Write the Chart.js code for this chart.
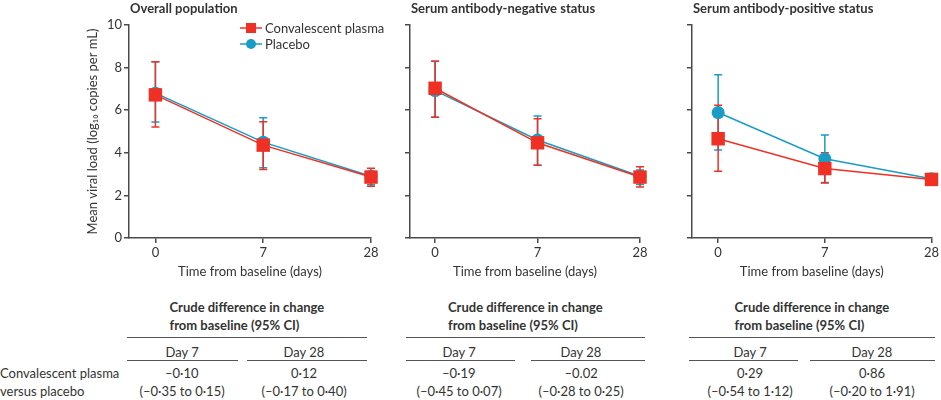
<!DOCTYPE html>
<html>
<head>
<meta charset="utf-8">
<script src="https://cdn.jsdelivr.net/npm/chart.js@4.4.0/dist/chart.umd.min.js"></script>
<style>
  body { margin: 0; width: 941px; height: 400px; background: #fff; position: relative; overflow: hidden;
         font-family: Lato, "Open Sans", sans-serif; color: #333; }
  canvas { position: absolute; top: 0; }
  .ttl { position: absolute; top: 0; font-size: 13px; font-weight: bold; line-height: 16px; white-space: nowrap; }
  .txt { position: absolute; font-size: 13px; line-height: 18px; white-space: nowrap; }
  .rule { position: absolute; height: 0; border-top: 1.5px solid #555; }
</style>
</head>
<body>
<canvas id="c1" width="400" height="285" style="left:0px"></canvas>
<canvas id="c2" width="280" height="285" style="left:380px"></canvas>
<canvas id="c3" width="279" height="285" style="left:662px"></canvas>
<div id="tables"></div>
<script>
const days = ['0', '7', '28']
const seriesNames = ['Convalescent plasma', 'Placebo']
const panelTitles = ['Overall population', 'Serum antibody-negative status', 'Serum antibody-positive status']

// overall population
const allPlasma   = [6.72, 4.36, 2.86]
const allPlasmaLo = [5.21, 3.22, 2.43]
const allPlasmaHi = [8.27, 5.46, 3.27]
const allPlacebo   = [6.80, 4.50, 2.90]
const allPlaceboLo = [5.45, 3.30, 2.50]
const allPlaceboHi = [8.27, 5.64, 3.12]

// antibody-negative
const negPlasma   = [7.03, 4.47, 2.86]
const negPlasmaLo = [5.67, 3.41, 2.40]
const negPlasmaHi = [8.30, 5.60, 3.34]
const negPlacebo   = [6.92, 4.60, 2.90]
const negPlaceboLo = [5.67, 3.41, 2.51]
const negPlaceboHi = [8.30, 5.73, 3.19]

// antibody-positive
const posPlasma   = [4.66, 3.26, 2.75]
const posPlasmaLo = [3.13, 2.58, 2.62]
const posPlasmaHi = [6.23, 4.00, 2.88]
const posPlacebo   = [5.89, 3.72, 2.78]
const posPlaceboLo = [4.13, 2.61, 2.58]
const posPlaceboHi = [7.66, 4.84, 3.00]

// table under each panel
const diffDays = ['Day 7', 'Day 28']
const diffAll = ['–0·10', '0·12']
const ciAll   = ['(–0·35 to 0·15)', '(–0·17 to 0·40)']
const diffNeg = ['–0·19', '–0.02']
const ciNeg   = ['(–0·45 to 0·07)', '(–0·28 to 0·25)']
const diffPos = ['0·29', '0·86']
const ciPos   = ['(–0·54 to 1·12)', '(–0·20 to 1·91)']

const red = '#ee3124'
const blue = '#1a9cc4'
const axisCol = '#4a4a4a'
const txtCol = '#333'
const font = { family: 'Lato', size: 13 }

const errorBars = {
  id: 'errorBars',
  beforeDatasetsDraw(chart) {
    const ctx = chart.ctx, xs = chart.scales.x, ys = chart.scales.y
    const sets = chart.data.datasets.slice().reverse()  // placebo underneath
    sets.forEach(ds => {
      ctx.save()
      ctx.strokeStyle = ds.borderColor
      ctx.lineWidth = 1.5
      ds.lo.forEach((lo, i) => {
        const px = xs.getPixelForValue(i)
        const top = ys.getPixelForValue(ds.hi[i])
        const bot = ys.getPixelForValue(lo)
        ctx.beginPath()
        ctx.moveTo(px, top); ctx.lineTo(px, bot)
        ctx.moveTo(px - 4, top); ctx.lineTo(px + 4, top)
        ctx.moveTo(px - 4, bot); ctx.lineTo(px + 4, bot)
        ctx.stroke()
      })
      ctx.restore()
    })
  }
}

const legendBox = {
  id: 'legendBox',
  afterDraw(chart) {
    if (!chart.options.showKey) return
    const ctx = chart.ctx
    chart.data.datasets.forEach((ds, i) => {
      const y = 28 + i * 16
      ctx.save()
      ctx.strokeStyle = ds.borderColor
      ctx.fillStyle = ds.borderColor
      ctx.lineWidth = 1.5
      ctx.beginPath(); ctx.moveTo(240, y); ctx.lineTo(262, y); ctx.stroke()
      if (ds.pointStyle === 'rect') {
        ctx.fillRect(246, y - 5, 10, 10)
      } else {
        ctx.beginPath(); ctx.arc(251, y, 5, 0, Math.PI * 2); ctx.fill()
      }
      ctx.fillStyle = txtCol
      ctx.font = '13px Lato'
      ctx.textBaseline = 'middle'
      ctx.fillText(ds.label, 265, y + 1)
      ctx.restore()
    })
  }
}

function makeChart(id, plasma, plasmaLo, plasmaHi, placebo, placeboLo, placeboHi, first, rightPad) {
  return new Chart(document.getElementById(id), {
    type: 'line',
    data: {
      datasets: [{
        label: seriesNames[0],
        data: plasma.map((v, i) => ({ x: i, y: v })),
        lo: plasmaLo, hi: plasmaHi,
        borderColor: red, backgroundColor: red,
        borderWidth: 1.5, pointStyle: 'rect', pointRadius: 9.5,
        pointBorderWidth: 0, clip: false
      }, {
        label: seriesNames[1],
        data: placebo.map((v, i) => ({ x: i, y: v })),
        lo: placeboLo, hi: placeboHi,
        borderColor: blue, backgroundColor: blue,
        borderWidth: 1.5, pointStyle: 'circle', pointRadius: 6.5,
        pointBorderWidth: 0, clip: false
      }]
    },
    options: {
      responsive: false,
      animation: false,
      showKey: first,
      layout: { padding: { top: 25, right: rightPad, bottom: 0, left: 0 } },
      plugins: { legend: { display: false }, tooltip: { enabled: false } },
      scales: {
        x: {
          type: 'linear', min: -0.245, max: 2,
          afterBuildTicks: s => { s.ticks = days.map((d, i) => ({ value: i })) },
          afterFit: s => { s.height = 47; s.paddingLeft = 0; s.paddingRight = 0 },
          ticks: { callback: v => days[v], font: font, color: txtCol, padding: 2, maxRotation: 0 },
          grid: { drawOnChartArea: false, tickLength: 5, color: axisCol, lineWidth: 1.5 },
          border: { color: axisCol, width: 1.5 },
          title: { display: true, text: 'Time from baseline (days)', font: font, color: txtCol,
                   padding: { top: 0, bottom: 5 } }
        },
        y: {
          min: 0, max: 10,
          afterFit: s => { s.width = first ? 129 : 30; s.paddingTop = 0; s.paddingBottom = 0 },
          ticks: { stepSize: 2, display: first, font: font, color: txtCol, padding: 2 },
          grid: { drawOnChartArea: false, tickLength: 5, color: axisCol, lineWidth: 1.5 },
          border: { color: axisCol, width: 1.5 },
          title: { display: first, text: 'Mean viral load (log₁₀ copies per mL)', font: font, color: txtCol,
                   padding: { top: 85, bottom: 0 } }
        }
      }
    },
    plugins: [errorBars, legendBox]
  })
}

makeChart('c1', allPlasma, allPlasmaLo, allPlasmaHi, allPlacebo, allPlaceboLo, allPlaceboHi, true, 29)
makeChart('c2', negPlasma, negPlasmaLo, negPlasmaHi, negPlacebo, negPlaceboLo, negPlaceboHi, false, 20)
makeChart('c3', posPlasma, posPlasmaLo, posPlasmaHi, posPlacebo, posPlaceboLo, posPlaceboHi, false, 7)

// titles and tables (html text)
const titleLeft = [130, 411, 693]
const ruleSpan = [[127, 367], [406, 645], [689, 935]]
const dayRules = [[[127, 238], [247, 367]], [[406, 515], [531, 645]], [[689, 798], [810, 935]]]
const colMid = [[182, 304], [459, 581], [750, 872]]
const diffs = [diffAll, diffNeg, diffPos]
const cis = [ciAll, ciNeg, ciPos]

const box = document.getElementById('tables')
function put(cls, html, css) {
  const d = document.createElement('div')
  d.className = cls
  d.innerHTML = html
  Object.assign(d.style, css)
  box.appendChild(d)
  return d
}
function centred(text, mid, top, bold) {
  const d = put('txt', text, { top: top + 'px', left: '0px', fontWeight: bold ? 'bold' : 'normal' })
  d.style.left = (mid - d.offsetWidth / 2) + 'px'
}

panelTitles.forEach((t, p) => {
  put('ttl', t, { left: titleLeft[p] + 'px' })
  const [l, r] = ruleSpan[p]
  const head = put('txt', 'Crude difference in change<br>from baseline (95% CI)',
    { top: '298px', left: '0px', fontWeight: 'bold' })
  head.style.left = ((l + r) / 2 - head.offsetWidth / 2) + 'px'
  put('rule', '', { left: l + 'px', width: (r - l) + 'px', top: '337px' })
  dayRules[p].forEach(([a, b]) => put('rule', '', { left: a + 'px', width: (b - a) + 'px', top: '360px' }))
  diffDays.forEach((d, k) => {
    centred(d, colMid[p][k], 343)
    centred(diffs[p][k], colMid[p][k], 364)
    centred(cis[p][k], colMid[p][k], 382)
  })
})
put('txt', 'Convalescent plasma', { left: '0px', top: '364px' })
put('txt', 'versus placebo', { left: '0px', top: '382px' })
</script>
</body>
</html>
